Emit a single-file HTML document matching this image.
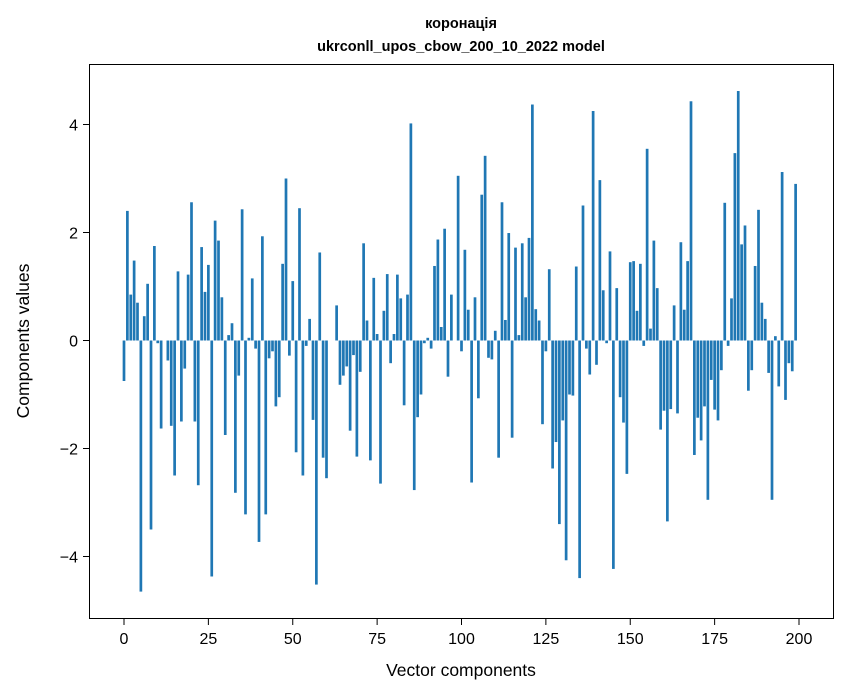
<!DOCTYPE html>
<html><head><meta charset="utf-8"><style>
html,body{margin:0;padding:0;background:#fff;}
svg{display:block;font-family:"Liberation Sans","DejaVu Sans",sans-serif;}
</style></head><body>
<svg id="chart" width="847" height="696" viewBox="0 0 847 696" xmlns="http://www.w3.org/2000/svg">
<rect x="0" y="0" width="847" height="696" fill="#fff"/>
<text x="461" y="28" text-anchor="middle" font-size="14.5" font-weight="bold">коронація</text>
<text x="461" y="51" text-anchor="middle" font-size="14.5" font-weight="bold">ukrconll_upos_cbow_200_10_2022 model</text>
<g id="bars"></g>
<rect x="89.5" y="64.5" width="744" height="554" fill="none" stroke="#000" stroke-width="1"/>
<g id="xticks"></g>
<g id="yticks"></g>
<text x="461" y="676" text-anchor="middle" font-size="17.5">Vector components</text>
<text transform="translate(29,341) rotate(-90)" text-anchor="middle" font-size="17.5">Components values</text>
</svg>
<script>
const values = [-0.75,2.4,0.85,1.48,0.7,-4.65,0.45,1.05,-3.5,1.75,
-0.05,-1.63,0,-0.37,-1.58,-2.5,1.28,-1.5,-0.52,1.22,
2.56,-1.5,-2.68,1.73,0.9,1.4,-4.37,2.22,1.85,0.8,
-1.75,0.1,0.32,-2.82,-0.65,2.43,-3.22,0.05,1.15,-0.15,
-3.73,1.93,-3.22,-0.33,-0.2,-1.22,-1.05,1.42,3.0,-0.28,
1.1,-2.07,2.45,-2.5,-0.1,0.4,-1.47,-4.52,1.63,-2.17,
-2.55,0,0,0.65,-0.82,-0.65,-0.48,-1.67,-0.27,-2.15,
-0.58,1.8,0.37,-2.22,1.16,0.12,-2.65,0.55,1.23,-0.42,
0.12,1.22,0.78,-1.2,0.85,4.02,-2.77,-1.42,-1.0,-0.05,
0.05,-0.15,1.38,1.87,0.25,2.07,-0.67,0.85,0,3.05,
-0.2,1.68,0.57,-2.63,0.8,-1.07,2.7,3.42,-0.32,-0.35,
0.18,-2.17,2.56,0.38,1.99,-1.8,1.72,0.1,1.8,0.8,
1.9,4.37,0.58,0.37,-1.55,-0.2,1.32,-2.37,-1.88,-3.4,
-1.48,-4.07,-1.0,-1.02,1.37,-4.4,2.5,-0.15,-0.63,4.25,
-0.45,2.97,0.93,-0.05,1.65,-4.23,0.97,-1.05,-1.52,-2.47,
1.45,1.47,0.55,1.42,-0.1,3.55,0.22,1.85,0.97,-1.65,
-1.3,-3.35,-1.27,0.65,-1.35,1.82,0.57,1.47,4.43,-2.12,
-1.43,-1.85,-1.22,-2.95,-0.73,-1.28,-1.48,-0.55,2.55,-0.1,
0.78,3.47,4.62,1.78,2.13,-0.93,-0.55,1.38,2.42,0.7,
0.4,-0.6,-2.95,0.08,-0.85,3.12,-1.1,-0.42,-0.57,2.9];
const xTicks = [0,25,50,75,100,125,150,175,200];
const yTicks = [-4,-2,0,2,4];

function xs(v){ return 124 + v*3.375; }
function ys(v){ return 340.5 - v*54; }
const NS = "http://www.w3.org/2000/svg";
const gb = document.getElementById('bars');
values.forEach((v,i)=>{
  const r = document.createElementNS(NS,'rect');
  const w = 0.8*3.375;
  r.setAttribute('x', xs(i)-w/2);
  r.setAttribute('width', w);
  r.setAttribute('y', Math.min(ys(v), ys(0)));
  r.setAttribute('height', Math.abs(ys(v)-ys(0)));
  r.setAttribute('fill', '#1f77b4');
  
  
  gb.appendChild(r);
});
const gx = document.getElementById('xticks');
xTicks.forEach(t=>{
  const l = document.createElementNS(NS,'line');
  l.setAttribute('x1', xs(t)); l.setAttribute('x2', xs(t));
  l.setAttribute('y1', 618.5); l.setAttribute('y2', 625);
  l.setAttribute('stroke', '#000');
  
  
  gx.appendChild(l);
  const tx = document.createElementNS(NS,'text');
  tx.setAttribute('x', xs(t)); tx.setAttribute('y', 644);
  tx.setAttribute('text-anchor', 'middle'); tx.setAttribute('font-size', '16');
  tx.textContent = t;
  
  
  gx.appendChild(tx);
});
const gy = document.getElementById('yticks');
yTicks.forEach(t=>{
  const l = document.createElementNS(NS,'line');
  l.setAttribute('x1', 83); l.setAttribute('x2', 89.5);
  l.setAttribute('y1', ys(t)); l.setAttribute('y2', ys(t));
  l.setAttribute('stroke', '#000');
  
  
  gy.appendChild(l);
  const tx = document.createElementNS(NS,'text');
  tx.setAttribute('x', 78); tx.setAttribute('y', ys(t)+6);
  tx.setAttribute('text-anchor', 'end'); tx.setAttribute('font-size', '16');
  tx.textContent = t < 0 ? '\u2212' + Math.abs(t) : String(t);
  
  
  gy.appendChild(tx);
});
</script>
</body></html>
